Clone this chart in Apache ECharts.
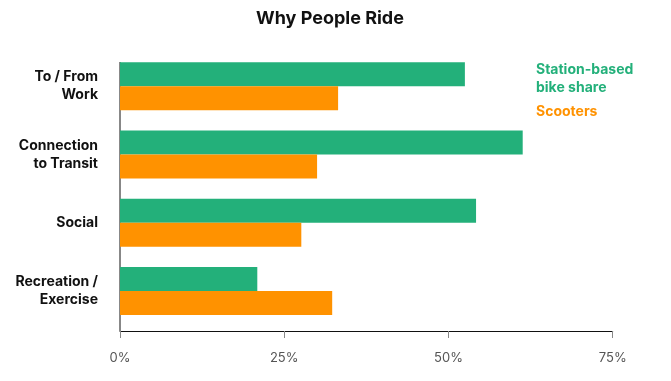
<!DOCTYPE html>
<html><head><meta charset="utf-8">
<script src="https://cdn.jsdelivr.net/npm/echarts@6/dist/echarts.min.js"></script>
<style>html,body{margin:0;padding:0;background:#fff}#c{width:671px;height:381px}</style>
</head><body><div id="c"></div>
<script>
const title = 'Why People Ride';
const categories = ['To / From\nWork', 'Connection\nto Transit', 'Social', 'Recreation /\nExercise'];
const bikeName = 'Station-based\nbike share';
const scooterName = 'Scooters';
const bikeValues = [52.5, 61.3, 54.2, 20.9];
const scooterValues = [33.2, 30.0, 27.6, 32.3];
const xTicks = [0, 25, 50, 75];

const GREEN = '#23b07a', ORANGE = '#ff9200';
const FONT = 'Inter, "Liberation Sans", sans-serif';
const chart = echarts.init(document.getElementById('c'), null, {renderer: 'canvas'});
chart.setOption({
  animation: false,
  title: {text: title, left: 251, top: 5, textStyle: {fontFamily: FONT, fontSize: 18, fontWeight: 'bold', color: '#111'}},
  legend: {
    orient: 'vertical', left: 531, top: 56, icon: 'none', itemWidth: 0, itemHeight: 0, itemGap: 6,
    selectedMode: false,
    textStyle: {fontFamily: FONT, fontSize: 14, fontWeight: 'bold', lineHeight: 18, padding: [0,0,0,-5]},
    data: [
      {name: bikeName, textStyle: {color: GREEN}},
      {name: scooterName, textStyle: {color: ORANGE}}
    ]
  },
  grid: {left: 120, right: 58.3, top: 52, bottom: 56},
  xAxis: {
    type: 'value', min: xTicks[0], max: xTicks[xTicks.length-1], interval: 25, offset: 6,
    axisLine: {show: true, lineStyle: {color: '#111', width: 1}},
    axisTick: {show: true, length: 7, lineStyle: {color: '#888'}},
    splitLine: {show: false},
    axisLabel: {formatter: '{value}%', fontFamily: FONT, fontSize: 13, color: '#555', margin: 21}
  },
  yAxis: {
    type: 'category', data: categories, inverse: true,
    axisLine: {show: false}, axisTick: {show: false},
    axisLabel: {fontFamily: FONT, fontSize: 14, fontWeight: 'bold', color: '#111', margin: 22, lineHeight: 18, align: 'right'}
  },
  graphic: [{type: 'line', shape: {x1: 120, y1: 62, x2: 120, y2: 331}, style: {stroke: '#111', lineWidth: 1}}],
  series: [
    {name: bikeName, type: 'bar', data: bikeValues, barWidth: 24, barGap: '0%', itemStyle: {color: GREEN}},
    {name: scooterName, type: 'bar', data: scooterValues, barWidth: 24, barGap: '0%', itemStyle: {color: ORANGE}}
  ]
});
</script></body></html>
